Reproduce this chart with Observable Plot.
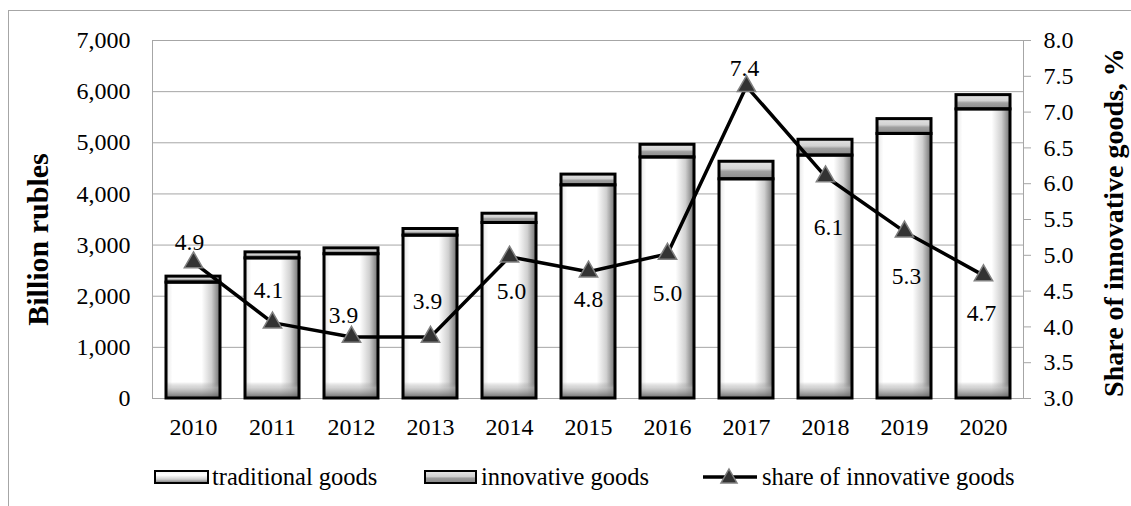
<!DOCTYPE html>
<html>
<head>
<meta charset="utf-8">
<script src="https://cdn.jsdelivr.net/npm/d3@7"></script>
<script src="https://cdn.jsdelivr.net/npm/@observablehq/plot@0.6"></script>
<style>
  html, body { margin: 0; padding: 0; background: white; }
  #wrap { position: relative; width: 1131px; height: 506px; overflow: hidden; background: white;
          font-family: "Liberation Serif", "Times New Roman", serif; color: black; }
  #border { position: absolute; left: 8px; top: 10px; right: -2px; bottom: -2px;
            border-top: 1.5px solid #a6a6a6; border-left: 1.5px solid #a6a6a6; }
  .layer { position: absolute; left: 0; top: 0; }
  .leg { position: absolute; top: 463px; height: 28px; display: flex; align-items: center;
         font-size: 24.5px; line-height: 1; white-space: nowrap; }
  .sw { box-sizing: border-box; height: 14px; border: 2.6px solid black; }
</style>
</head>
<body>
<div id="wrap">
  <div id="border"></div>
  <div id="a" class="layer"></div>
  <div id="b" class="layer"></div>
  <div class="leg" style="left:154px">
    <div class="sw" style="width:55px;background:linear-gradient(to bottom,#f4f4f4,#ffffff 30%,#cfcfcf 72%,#8a8a8a);"></div>
    <span style="margin-left:3px">traditional goods</span>
  </div>
  <div class="leg" style="left:424px">
    <div class="sw" style="width:53px;background:linear-gradient(to bottom,#e4e4e4,#cfcfcf 45%,#9c9c9c 62%,#8a8a8a);"></div>
    <span style="margin-left:4px">innovative goods</span>
  </div>
  <div class="leg" style="left:703px">
    <svg width="54" height="20" style="display:block">
      <line x1="0" y1="10" x2="54" y2="10" stroke="black" stroke-width="3.5"></line>
      <path d="M26,2 L34,16 L18,16 Z" fill="#333" stroke="#808080" stroke-width="1.5"></path>
    </svg>
    <span style="margin-left:5px">share of innovative goods</span>
  </div>
</div>
<script>
// ---- data ----
const years = ["2010","2011","2012","2013","2014","2015","2016","2017","2018","2019","2020"];
const traditional = [2266, 2740, 2821, 3185, 3432, 4168, 4713, 4286, 4750, 5173, 5653];
const innovative  = [117, 117, 115, 129, 181, 210, 248, 343, 309, 290, 279];
const share       = [4.9, 4.06, 3.86, 3.86, 4.98, 4.77, 5.02, 7.36, 6.1, 5.33, 4.72];
const leftTicks   = [0, 1000, 2000, 3000, 4000, 5000, 6000, 7000];
const rightTicks  = [3.0, 3.5, 4.0, 4.5, 5.0, 5.5, 6.0, 6.5, 7.0, 7.5, 8.0];
const leftTitle   = "Billion rubles";
const rightTitle  = "Share of innovative goods, %";

// ---- layout (label nudges, px) ----
const labelDx = [-4, -4, -8, -3, 2, 0, 0, -2, 3, 2, -2];
const labelDy = [-20, -32, -21, -35, 35, 28, 40, -18, 51, 45, 38];

const rows = years.map((year, i) => ({
  year,
  trad: traditional[i],
  total: traditional[i] + innovative[i],
  share: share[i]
}));

const FONT = '"Liberation Serif", "Times New Roman", serif';
const common = {
  width: 1131, height: 450,
  marginTop: 40, marginBottom: 52, marginLeft: 152, marginRight: 108
};
const xScale = {domain: years, paddingInner: 0.32, paddingOuter: 0.16, align: 0.5};

const chartA = Plot.plot({
  ...common,
  x: {...xScale},
  y: {domain: [0, 7000]},
  style: {fontFamily: FONT, fontSize: "24px", color: "black", background: "transparent", overflow: "visible"},
  marks: [
    Plot.gridY(leftTicks, {stroke: "#a6a6a6", strokeOpacity: 1}),
    Plot.frame({stroke: "#a6a6a6"}),
    Plot.barY(rows, {x: "year", y1: 0, y2: "trad", fill: "url(#gTrad)"}),
    Plot.barY(rows, {x: "year", y1: 0, y2: "trad", fill: "url(#gBottom)"}),
    Plot.barY(rows, {x: "year", y1: "trad", y2: "total", fill: "url(#gInnov)"}),
    Plot.barY(rows, {x: "year", y1: 0, y2: "trad", fill: "none", stroke: "black", strokeWidth: 3}),
    Plot.barY(rows, {x: "year", y1: "trad", y2: "total", fill: "none", stroke: "black", strokeWidth: 3}),
    Plot.axisY(leftTicks, {tickSize: 0, tickPadding: 22, tickFormat: d3.format(","), label: null, fontSize: 24}),
    Plot.axisX({tickSize: 0, tickPadding: 19, label: null, fontSize: 24}),
    Plot.text([leftTitle], {frameAnchor: "left", textAnchor: "middle", rotate: -90, dx: -114, dy: 20,
      fontWeight: "bold", fontSize: 30})
  ]
});

d3.select(chartA).insert("defs", ":first-child").html(`
  <linearGradient id="gTrad" x1="0" y1="0" x2="1" y2="0">
    <stop offset="0" stop-color="#c8c8c8"/>
    <stop offset="0.05" stop-color="#f0f0f0"/>
    <stop offset="0.12" stop-color="#ffffff"/>
    <stop offset="0.66" stop-color="#ffffff"/>
    <stop offset="0.84" stop-color="#d0d0d0"/>
    <stop offset="1" stop-color="#707070"/>
  </linearGradient>
  <linearGradient id="gBottom" gradientUnits="userSpaceOnUse" x1="0" y1="382" x2="0" y2="398">
    <stop offset="0" stop-color="#808080" stop-opacity="0"/>
    <stop offset="0.35" stop-color="#b0b0b0" stop-opacity="0.55"/>
    <stop offset="1" stop-color="#606060" stop-opacity="0.95"/>
  </linearGradient>
  <linearGradient id="gInnov" x1="0" y1="0" x2="0" y2="1">
    <stop offset="0" stop-color="#e4e4e4"/>
    <stop offset="0.42" stop-color="#d2d2d2"/>
    <stop offset="0.58" stop-color="#a0a0a0"/>
    <stop offset="1" stop-color="#8a8a8a"/>
  </linearGradient>
`);

const labelMarks = rows.map((r, i) =>
  Plot.text([r], {x: "year", y: "share", text: d => d.share.toFixed(1),
    dx: labelDx[i], dy: labelDy[i], fontSize: 23.5})
);

const chartB = Plot.plot({
  ...common,
  x: {...xScale, axis: null},
  y: {domain: [3, 8]},
  style: {fontFamily: FONT, fontSize: "24px", color: "black", background: "transparent", overflow: "visible"},
  marks: [
    Plot.axisY(rightTicks, {anchor: "right", tickSize: 7, tickPadding: 13, stroke: "#a6a6a6",
      tickFormat: d3.format(".1f"), label: null, fontSize: 24}),
    Plot.line(rows, {x: "year", y: "share", stroke: "black", strokeWidth: 3.5}),
    Plot.dot(rows, {x: "year", y: "share", symbol: "triangle", r: 6.8, fill: "#333", stroke: "#808080", strokeWidth: 1.5}),
    ...labelMarks,
    Plot.text([rightTitle], {frameAnchor: "right", textAnchor: "middle", rotate: -90, dx: 91, dy: 3,
      fontWeight: "bold", fontSize: 28})
  ]
});

document.getElementById("a").appendChild(chartA);
document.getElementById("b").appendChild(chartB);
</script>
</body>
</html>
